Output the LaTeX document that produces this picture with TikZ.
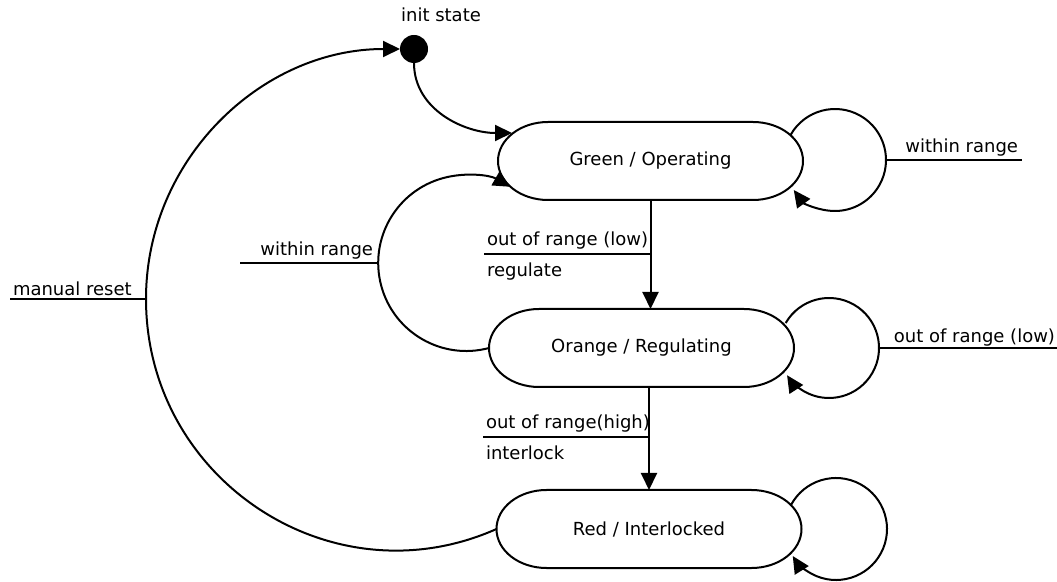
\documentclass[tikz,border=0pt]{standalone}
\usepackage{fontspec}
\setmainfont{DejaVu Sans}
\usetikzlibrary{arrows.meta,calc,positioning}

\begin{document}
\begin{tikzpicture}[x=1pt,y=1pt,>={Triangle[length=17pt,width=16pt]},line width=2pt,
    every node/.style={font=\fontsize{18}{22}\selectfont},
    state/.style={minimum width=305pt,minimum height=78pt,inner sep=0pt,outer sep=0pt}]
    \useasboundingbox (0,0) rectangle (1057,581);

    % states
    \node[circle,fill,minimum size=28pt,inner sep=0pt,outer sep=0pt] (init) at (414,532) {};
    \node (initlbl) at (441,566) {init state};
    \node[state] (green) at (650.5,420) {Green / Operating};
    \node[state] (orange) at (641.5,233) {Orange / Regulating};
    \node[state] (red) at (649,52) {Red / Interlocked};
    \foreach \n in {green,orange,red}
      \draw ([xshift=50pt]\n.north west) -- ([xshift=-50pt]\n.north east)
        arc[start angle=90,end angle=-90,x radius=50pt,y radius=39pt]
        -- ([xshift=50pt]\n.south west)
        arc[start angle=270,end angle=90,x radius=50pt,y radius=39pt] -- cycle;

    % helper points
    \coordinate (gin) at (512,448);
    \coordinate (reset) at (146,282);
    \coordinate (wl) at (377,318);
    \coordinate (gl) at (835,421);
    \coordinate (ol) at (829,233);
    \coordinate (rl) at (836,52);
    \coordinate (lowlbl) at (484,327);
    \coordinate (highlbl) at (483,144);

    % transitions
    \draw[->] (init.south) to[out=-90,in=180] (gin);
    \draw[->] (green.south) -- (green.south |- orange.north);
    \draw[->] (orange.south -| red.north) -- (red.north);
    \draw[->] (red.west) to[out=204,in=-90,looseness=1.1] (reset)
      to[out=90,in=180] (init.west);
    \draw[->] (orange.west) arc[start angle=-75,end angle=-300,radius=88pt];
    \draw[->] ([shift={(150:51pt)}]gl) arc[start angle=150,end angle=-144,radius=51pt];
    \draw[->] ([shift={(150:50pt)}]ol) arc[start angle=150,end angle=-147,radius=50pt];
    \draw[->] ([shift={(152:51pt)}]rl) arc[start angle=152,end angle=-148,radius=51pt];

    % labels
    \draw (lowlbl) -- (lowlbl -| green.south);
    \node[above right,inner sep=2pt,yshift=2pt] at (lowlbl) {out of range (low)};
    \node[below right,inner sep=2pt,yshift=-6pt] at (lowlbl) {regulate};
    \draw (highlbl) -- (highlbl -| red.north);
    \node[above right,inner sep=2pt,yshift=2pt] at (highlbl) {out of range(high)};
    \node[below right,inner sep=2pt,yshift=-6pt] at (highlbl) {interlock};
    \draw (reset) -- ++(-136,0) node[above right,inner sep=2pt] {manual reset};
    \draw (wl) -- ++(-137,0);
    \node[above left,inner sep=3pt] at (wl) {within range};
    \draw ([shift={(0:51pt)}]gl) -- ++(136,0) node[above left,inner sep=3pt] {within range};
    \draw ([shift={(0:50pt)}]ol) -- ++(178,0) node[above left,inner sep=1pt] {out of range (low)};
\end{tikzpicture}
\end{document}
